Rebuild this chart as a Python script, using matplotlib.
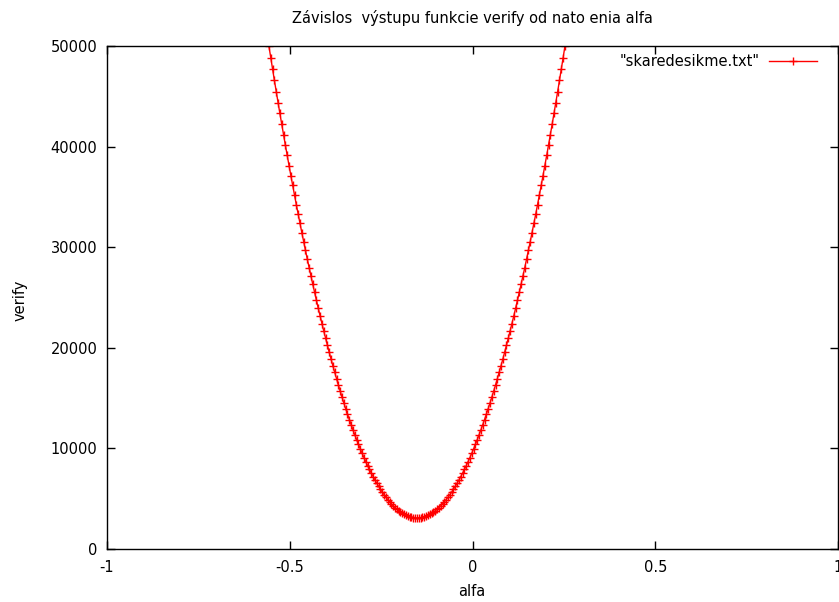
import matplotlib
matplotlib.use("Agg")
import matplotlib.pyplot as plt

plt.rcParams['font.family'] = ['DejaVu Sans']

title = "Závislos  výstupu funkcie verify od nato enia alfa"
xlabel = "alfa"
ylabel = "verify"
series_label = '"skaredesikme.txt"'

alfa = [
    -0.572, -0.567, -0.562, -0.557, -0.552, -0.547, -0.542, -0.537, -0.532, -0.527,
    -0.522, -0.517, -0.512, -0.507, -0.502, -0.497, -0.492, -0.487, -0.482, -0.477,
    -0.472, -0.467, -0.462, -0.457, -0.452, -0.447, -0.442, -0.437, -0.432, -0.427,
    -0.422, -0.417, -0.412, -0.407, -0.402, -0.397, -0.392, -0.387, -0.382, -0.377,
    -0.372, -0.367, -0.362, -0.357, -0.352, -0.347, -0.342, -0.337, -0.332, -0.327,
    -0.322, -0.317, -0.312, -0.307, -0.302, -0.297, -0.292, -0.287, -0.282, -0.277,
    -0.272, -0.267, -0.262, -0.257, -0.252, -0.247, -0.242, -0.237, -0.232, -0.227,
    -0.222, -0.217, -0.212, -0.207, -0.202, -0.197, -0.192, -0.187, -0.182, -0.177,
    -0.172, -0.167, -0.162, -0.157, -0.152, -0.147, -0.142, -0.137, -0.132, -0.127,
    -0.122, -0.117, -0.112, -0.107, -0.102, -0.097, -0.092, -0.087, -0.082, -0.077,
    -0.072, -0.067, -0.062, -0.057, -0.052, -0.047, -0.042, -0.037, -0.032, -0.027,
    -0.022, -0.017, -0.012, -0.007, -0.002, 0.003, 0.008, 0.013, 0.018, 0.023,
    0.028, 0.033, 0.038, 0.043, 0.048, 0.053, 0.058, 0.063, 0.068, 0.073,
    0.078, 0.083, 0.088, 0.093, 0.098, 0.103, 0.108, 0.113, 0.118, 0.123,
    0.128, 0.133, 0.138, 0.143, 0.148, 0.153, 0.158, 0.163, 0.168, 0.173,
    0.178, 0.183, 0.188, 0.193, 0.198, 0.203, 0.208, 0.213, 0.218, 0.223,
    0.228, 0.233, 0.238, 0.243, 0.248, 0.253, 0.258, 0.263, 0.268,
]

verify = [
    53530, 52336, 51157, 49991, 48840, 47703, 46581, 45472, 44378, 43299,
    42233, 41182, 40146, 39123, 38115, 37121, 36142, 35176, 34225, 33289,
    32366, 31458, 30565, 29685, 28820, 27969, 27133, 26310, 25502, 24709,
    23929, 23164, 22414, 21677, 20955, 20247, 19554, 18874, 18209, 17559,
    16922, 16300, 15693, 15099, 14520, 13955, 13405, 12868, 12346, 11839,
    11345, 10866, 10402, 9951, 9515, 9093, 8686, 8292, 7913, 7549,
    7198, 6862, 6541, 6233, 5940, 5661, 5397, 5146, 4910, 4689,
    4481, 4288, 4110, 3945, 3795, 3659, 3538, 3430, 3337, 3259,
    3194, 3144, 3109, 3087, 3080, 3087, 3109, 3144, 3194, 3259,
    3337, 3430, 3538, 3659, 3795, 3945, 4110, 4288, 4481, 4689,
    4910, 5146, 5397, 5661, 5940, 6233, 6541, 6862, 7198, 7549,
    7913, 8292, 8686, 9093, 9515, 9951, 10402, 10866, 11345, 11839,
    12346, 12868, 13405, 13955, 14520, 15099, 15693, 16300, 16922, 17559,
    18209, 18874, 19554, 20247, 20955, 21677, 22414, 23164, 23929, 24709,
    25502, 26310, 27133, 27969, 28820, 29685, 30565, 31458, 32366, 33289,
    34225, 35176, 36142, 37121, 38115, 39123, 40146, 41182, 42233, 43299,
    44378, 45472, 46581, 47703, 48840, 49991, 51157, 52336, 53530,
]

xticks = [-1, -0.5, 0, 0.5, 1]
xtick_labels = ["-1", "-0.5", "0", "0.5", "1"]
yticks = [0, 10000, 20000, 30000, 40000, 50000]
ytick_labels = ["0", "10000", "20000", "30000", "40000", "50000"]

FS = 10.5
W, H = 839, 602
fig = plt.figure(figsize=(W / 100, H / 100), dpi=100)
ax = fig.add_axes([107 / W, 53 / H, 731 / W, 503 / H])

ax.plot(alfa, verify, color='#ff0000', linewidth=1.0, marker='+',
        markersize=5.5, markeredgewidth=1.0, label=series_label)

ax.set_xlim(-1, 1)
ax.set_ylim(0, 50000)
ax.set_xticks(xticks)
ax.set_xticklabels(xtick_labels)
ax.set_yticks(yticks)
ax.set_yticklabels(ytick_labels)

ax.tick_params(direction='in', length=6, width=1, top=True, right=True,
               labelsize=FS, colors='black')
ax.tick_params(axis='x', pad=8)
ax.tick_params(axis='y', pad=7)
for s in ax.spines.values():
    s.set_linewidth(1.0)
    s.set_color('black')

fig.text(472 / W, 1 - 18 / H, title, fontsize=FS, ha='center', va='center')
fig.text(472 / W, 1 - 592 / H, xlabel, fontsize=FS, ha='center', va='center')
fig.text(20 / W, 1 - 300 / H, ylabel, fontsize=FS, ha='center', va='center',
         rotation=90)

leg = ax.legend(loc='upper right', frameon=False, markerfirst=False,
                fontsize=FS, handlelength=3.3, numpoints=1,
                borderaxespad=0, borderpad=0, handletextpad=0.62,
                bbox_to_anchor=(817 / W, 1 - 54 / H),
                bbox_transform=fig.transFigure)

fig.savefig("out.png", dpi=100)
